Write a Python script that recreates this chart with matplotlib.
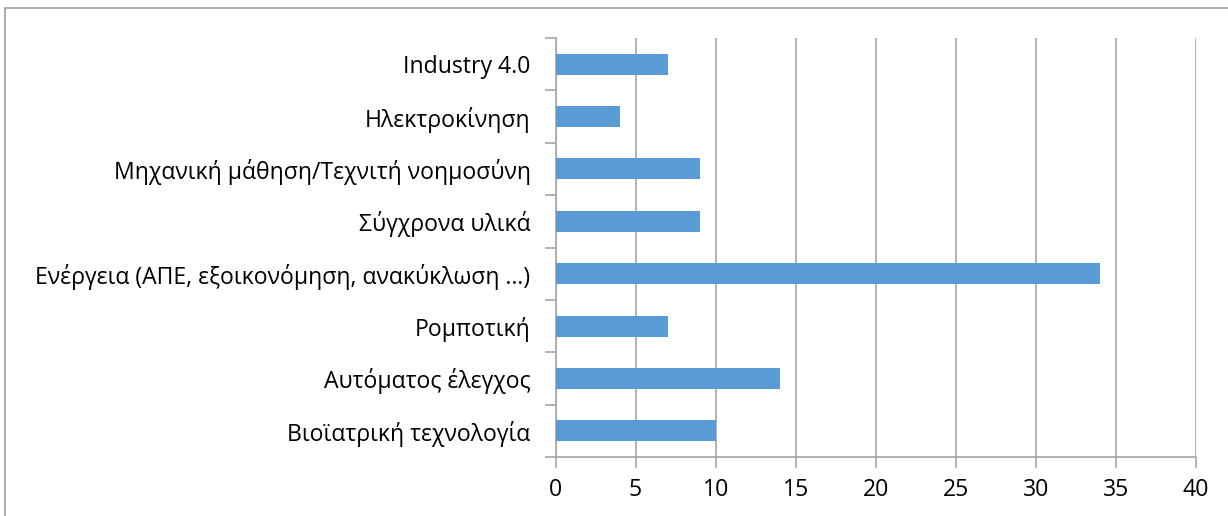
import numpy as np
import matplotlib
matplotlib.use("Agg")
import matplotlib.pyplot as plt
from matplotlib.patches import Rectangle

# categories listed bottom to top
categories = [
    "Βιοϊατρική τεχνολογία",
    "Αυτόματος έλεγχος",
    "Ρομποτική",
    "Ενέργεια (ΑΠΕ, εξοικονόμηση, ανακύκλωση …)",
    "Σύγχρονα υλικά",
    "Μηχανική μάθηση/Τεχνιτή νοημοσύνη",
    "Ηλεκτροκίνηση",
    "Industry 4.0",
]
values = [10, 14, 7, 34, 9, 9, 4, 7]
x_ticks = [0, 5, 10, 15, 20, 25, 30, 35, 40]

plt.rcParams["font.family"] = ["Open Sans", "DejaVu Sans"]

fig = plt.figure(figsize=(12.28, 5.16), dpi=100)
ax = fig.add_axes([555.5 / 1228, 1 - 457 / 516, 640.5 / 1228, 419 / 516])

y = np.arange(len(categories))
ax.barh(y, values, height=0.4, color="#5b9bd5", zorder=3)

ax.set_xlim(0, 40)
ax.set_ylim(-0.5, len(categories) - 0.5)
ax.set_xticks(x_ticks)
ax.set_yticks(y)
ax.set_yticklabels(categories)
ax.set_yticks(np.arange(-0.5, len(categories), 1), minor=True)

grid_col = "#a6a6a6"
ax.grid(axis="x", color=grid_col, linewidth=1.2, zorder=0)
for s in ["top", "right"]:
    ax.spines[s].set_visible(False)
for s in ["left", "bottom"]:
    ax.spines[s].set_color(grid_col)
    ax.spines[s].set_linewidth(1.2)

ax.tick_params(axis="y", which="major", length=0, pad=18, labelsize=16.6)
ax.tick_params(axis="y", which="minor", length=8, color=grid_col, width=1.2)
ax.tick_params(axis="x", length=8, color=grid_col, width=1.2, pad=7, labelsize=16.6)

fig.patches.append(Rectangle((5 / 1228, -0.1), 1.2, 1 - 8 / 516 + 0.1,
                             transform=fig.transFigure, fill=False,
                             edgecolor="#a0a0a0", linewidth=1.2))

fig.savefig("out.png", dpi=100)
